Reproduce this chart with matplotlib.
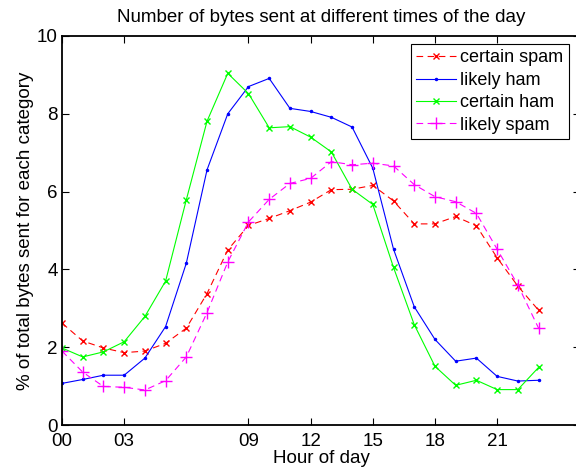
import numpy as np
import matplotlib
matplotlib.use("Agg")
import matplotlib.pyplot as plt

plt.rcParams['font.family'] = ['Liberation Sans', 'DejaVu Sans']

# hours of the day and % of bytes sent
hours = list(range(24))
certain_spam = [2.62, 2.16, 1.98, 1.86, 1.90, 2.10, 2.49, 3.38, 4.50, 5.13, 5.31, 5.51,
                5.73, 6.05, 6.06, 6.16, 5.76, 5.17, 5.17, 5.36, 5.12, 4.30, 3.57, 2.95]
likely_ham = [1.07, 1.17, 1.28, 1.28, 1.72, 2.53, 4.16, 6.56, 8.00, 8.70, 8.91, 8.14,
              8.06, 7.91, 7.66, 6.60, 4.52, 3.04, 2.20, 1.64, 1.72, 1.25, 1.13, 1.15]
certain_ham = [1.98, 1.75, 1.88, 2.14, 2.79, 3.70, 5.79, 7.81, 9.04, 8.52, 7.64, 7.67,
               7.40, 7.02, 6.06, 5.67, 4.05, 2.58, 1.51, 1.02, 1.15, 0.91, 0.91, 1.48]
likely_spam = [1.90, 1.36, 0.99, 0.97, 0.90, 1.14, 1.75, 2.89, 4.19, 5.22, 5.80, 6.21,
               6.34, 6.77, 6.69, 6.73, 6.66, 6.18, 5.87, 5.74, 5.44, 4.52, 3.60, 2.49]

xtick_pos = [0, 3, 9, 12, 15, 18, 21]
xtick_labels = ["00", "03", "09", "12", "15", "18", "21"]

fig = plt.figure(figsize=(5.76, 4.72), dpi=100)
# axes run a little past the right edge, like the cropped original
ax = fig.add_axes([62 / 576, 47 / 472, 518 / 576, 389 / 472])

dash = (6, 4)
ax.plot(hours, certain_spam, color=(1, 0, 0), linestyle="--", dashes=dash, marker="x",
        markersize=5, lw=0.8, label="certain spam")
ax.plot(hours, likely_ham, color=(0, 0, 1), linestyle="-", marker=".",
        markersize=3, lw=0.8, label="likely ham")
ax.plot(hours, certain_ham, color=(0, 1, 0), linestyle="-", marker="x",
        markersize=5, lw=0.8, label="certain ham")
ax.plot(hours, likely_spam, color=(1, 0, 1), linestyle="--", dashes=dash, marker="+",
        markersize=8, lw=0.8, label="likely spam")

ax.set_xlim(0, 25)
ax.set_ylim(0, 10)
ax.set_xticks(xtick_pos)
ax.set_xticklabels(xtick_labels)
ax.set_yticks([0, 2, 4, 6, 8, 10])
ax.tick_params(direction="in", top=True, right=True, length=5, width=0.8,
               labelsize=13.5)
ax.tick_params(axis="x", pad=6)
ax.tick_params(axis="y", pad=3)
for sp in ax.spines.values():
    sp.set_linewidth(1.3)

ax.set_title("Number of bytes sent at different times of the day", fontsize=13.5, pad=10)
ax.set_xlabel("Hour of day", fontsize=13.5, labelpad=0)
ax.set_ylabel("% of total bytes sent for each category", fontsize=13.5, labelpad=2)

leg = ax.legend(loc="upper right", bbox_to_anchor=(569 / 576, 1 - 44 / 472),
                bbox_transform=fig.transFigure, borderaxespad=0, fontsize=13,
                handlelength=2.2, handletextpad=0.25, labelspacing=0.3,
                borderpad=0.3, fancybox=False, framealpha=1)
leg.get_frame().set_edgecolor("black")
leg.get_frame().set_linewidth(0.8)

fig.savefig("out.png", dpi=100)
